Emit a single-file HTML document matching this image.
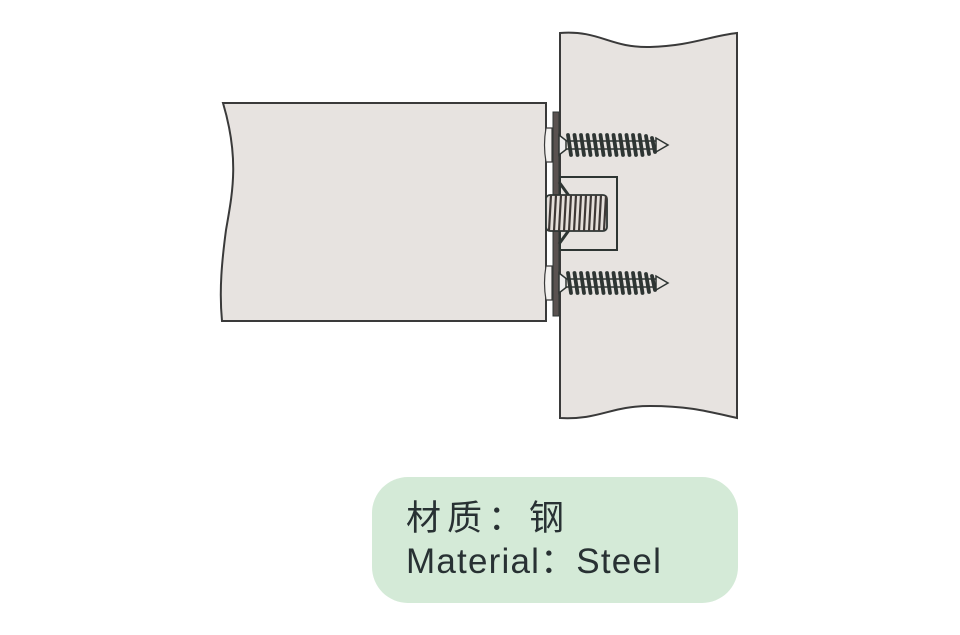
<!DOCTYPE html>
<html><head><meta charset="utf-8"><style>
html,body{margin:0;padding:0;background:#fff;width:960px;height:635px;overflow:hidden}
</style></head><body>
<svg width="960" height="635" viewBox="0 0 960 635" xmlns="http://www.w3.org/2000/svg">
<defs>
<g id="screw">
  <path d="M546,-17 L552,-17 L552,17 L546,17 Q543,0 546,-17Z" fill="#f4f2f0" stroke="#3a3a3a" stroke-width="1.2"/>
  <path d="M559,-10 L568,-3 L568,3 L559,10Z" fill="#eee" stroke="#2e3533" stroke-width="1.5"/>
  <rect x="566" y="-4" width="92" height="8" fill="#eae6e3" stroke="#2e3533" stroke-width="1.5"/>
  <path d="M656,-7 L668,0 L656,7Z" fill="#eae6e3" stroke="#2e3533" stroke-width="1.5"/>
  <g stroke="#2e3533" stroke-width="3.8" stroke-linecap="round">
    <line x1="568" y1="-10" x2="571" y2="10"/><line x1="574.5" y1="-10" x2="577.5" y2="10"/>
    <line x1="581" y1="-10" x2="584" y2="10"/><line x1="587.5" y1="-10" x2="590.5" y2="10"/>
    <line x1="594" y1="-10" x2="597" y2="10"/><line x1="600.5" y1="-10" x2="603.5" y2="10"/>
    <line x1="607" y1="-10" x2="610" y2="10"/><line x1="613.5" y1="-10" x2="616.5" y2="10"/>
    <line x1="620" y1="-10" x2="623" y2="10"/><line x1="626.5" y1="-10" x2="629.5" y2="10"/>
    <line x1="633" y1="-10" x2="636" y2="10"/><line x1="639.5" y1="-10" x2="642.5" y2="10"/>
    <line x1="646" y1="-9" x2="649" y2="9"/><line x1="652" y1="-7" x2="655" y2="7"/>
  </g>
</g>
</defs>
<path d="M560,33 C600,30 610,48 650,47 C690,46 710,36 737,33 L737,418 C710,412 690,406 650,406 C610,406 600,420 560,418Z" fill="#e7e3e0" stroke="#3a3a3a" stroke-width="2"/>
<path d="M223,103 L546,103 L546,321 L222,321 C219,290 222,260 226,230 C232,195 240,160 223,103Z" fill="#e7e3e0" stroke="#3a3a3a" stroke-width="2"/>
<rect x="560" y="177" width="57" height="73" fill="#e7e3e0" stroke="#2e3533" stroke-width="2"/>
<rect x="553" y="112" width="6" height="204" fill="#5a5250" stroke="#2e3533" stroke-width="1"/>
<path d="M559,182 L572,200 L572,226 L559,244" fill="none" stroke="#2e3533" stroke-width="3"/>
<rect x="546" y="195" width="61" height="36" rx="4" fill="#e4dfdb" stroke="#2e3533" stroke-width="1.8"/>
<g stroke="#3e3836" stroke-width="2.2">
  <path d="M551,195 L549,231 M556,195 L554,231 M561,195 L559,231 M566,195 L564,231 M571,195 L569,231 M576,195 L574,231 M581,195 L579,231 M586,195 L584,231 M591,195 L589,231 M596,195 L594,231 M601,195 L599,231 M606,196 L604,230"/>
</g>
<use href="#screw" transform="translate(0,145)"/>
<use href="#screw" transform="translate(0,283)"/>
<rect x="372" y="477" width="366" height="126" rx="36" fill="#d4ead7"/>
<text x="406" y="530" font-family="Liberation Sans, Noto Sans CJK SC, sans-serif" font-size="35" letter-spacing="6" fill="#283133">材质：钢</text>
<text x="406" y="573" font-family="Liberation Sans, Noto Sans CJK SC, sans-serif" font-size="35" letter-spacing="1.2" fill="#283133">Material：Steel</text>
</svg>
</body></html>
